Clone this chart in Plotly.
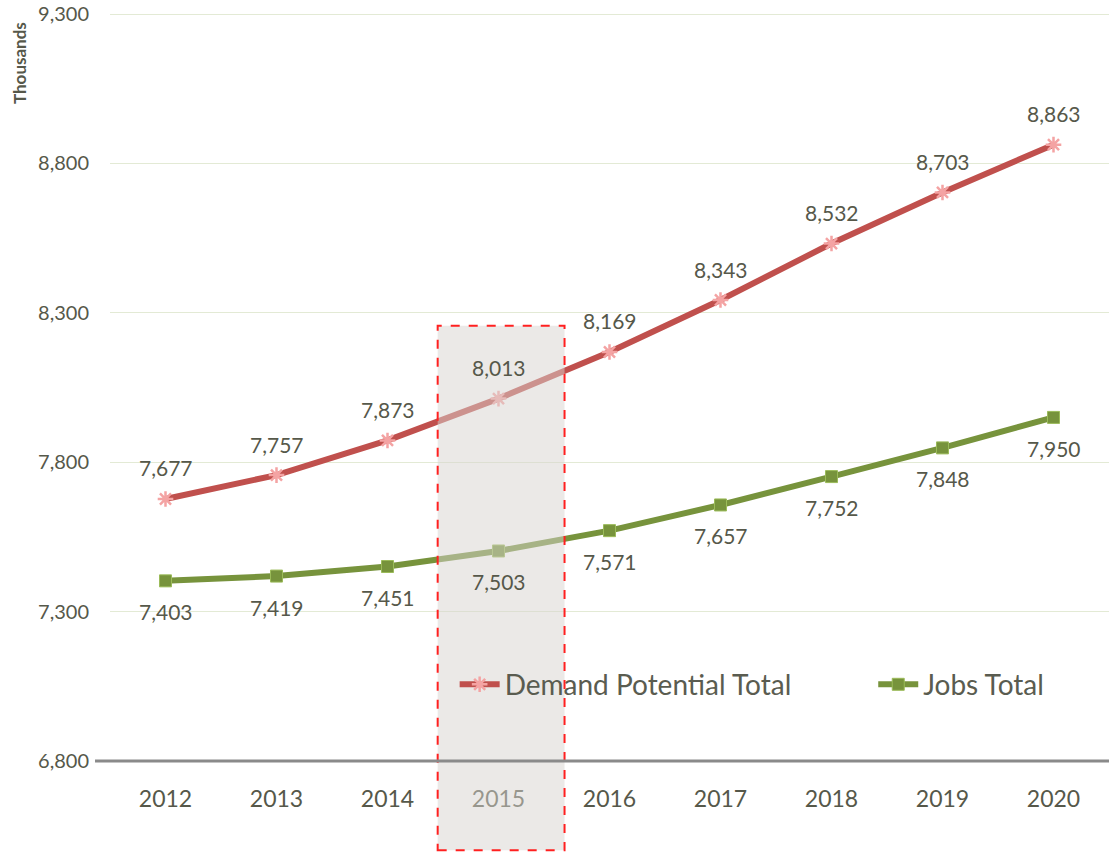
import plotly.graph_objects as go

years = [2012, 2013, 2014, 2015, 2016, 2017, 2018, 2019, 2020]
demand = [7677, 7757, 7873, 8013, 8169, 8343, 8532, 8703, 8863]
jobs = [7403, 7419, 7451, 7503, 7571, 7657, 7752, 7848, 7950]
y_ticks = [6800, 7300, 7800, 8300, 8800, 9300]

TXT = "#56584a"
FONT = "Lato"

fig = go.Figure()
fig.add_trace(go.Scatter(
    x=years, y=demand, name="Demand Potential Total",
    mode="lines+markers", legend="legend",
    line=dict(color="#c0504d", width=6),
    marker=dict(symbol="asterisk-open", size=13, color="#f4a3a3",
                line=dict(color="#f4a3a3", width=2.5)),
))
fig.add_trace(go.Scatter(
    x=years, y=jobs, name="Jobs Total",
    mode="lines+markers", legend="legend2",
    line=dict(color="#77933c", width=6),
    marker=dict(symbol="square", size=12, color="#77933c",
                line=dict(color="#9bbb59", width=1)),
))

for xv, yv in zip(years, demand):
    fig.add_annotation(x=xv, y=yv, text=f"{yv:,}", showarrow=False, yshift=31,
                       font=dict(family=FONT, size=21, color=TXT))
for xv, yv in zip(years, jobs):
    fig.add_annotation(x=xv, y=yv, text=f"{yv:,}", showarrow=False, yshift=-31,
                       font=dict(family=FONT, size=21, color=TXT))

# highlight box around 2015
fig.add_shape(type="rect", xref="paper", yref="paper",
              x0=0.328, x1=0.455, y0=-0.119, y1=0.581,
              fillcolor="rgba(215,211,207,0.5)",
              line=dict(color="#ff2020", width=2, dash="dash"),
              layer="above")
# bottom axis line
fig.add_shape(type="line", xref="paper", yref="paper",
              x0=-0.015, x1=1, y0=0, y1=0,
              line=dict(color="#8a8a8a", width=3), layer="above")

fig.add_annotation(text="<b>Thousands</b>", xref="paper", yref="paper",
                   x=-0.09, y=0.932, xanchor="center", yanchor="middle",
                   textangle=-90, showarrow=False,
                   font=dict(family=FONT, size=17, color=TXT))

leg_common = dict(orientation="h", yanchor="middle", xanchor="left",
                  font=dict(family=FONT, size=28, color="#5a5c50"),
                  bgcolor="rgba(0,0,0,0)", itemwidth=40)
fig.update_layout(
    width=1109, height=853,
    margin=dict(l=110, r=0, t=12, b=92),
    paper_bgcolor="white", plot_bgcolor="white",
    font=dict(family=FONT, color=TXT),
    showlegend=True,
    legend=dict(x=0.345, y=0.102, **leg_common),
    legend2=dict(x=0.764, y=0.102, **leg_common),
)
fig.update_xaxes(type="linear", range=[years[0] - 0.5, years[-1] + 0.5],
                 tickvals=years, ticktext=[str(y) for y in years],
                 showgrid=False, showline=False, zeroline=False,
                 tickfont=dict(family=FONT, size=23, color=TXT),
                 ticks="", ticklabelstandoff=22)
fig.update_yaxes(range=[y_ticks[0], y_ticks[-1] + 7], tickvals=y_ticks,
                 ticktext=[f"{v:,}" for v in y_ticks],
                 showgrid=True, gridcolor="#e3ead5", gridwidth=1,
                 zeroline=False, showline=False,
                 tickfont=dict(family=FONT, size=20, color=TXT),
                 ticks="", ticklabelstandoff=20)

fig.write_html("out.html", config={"displayModeBar": False},
               post_script="document.body.style.margin='0px';")
